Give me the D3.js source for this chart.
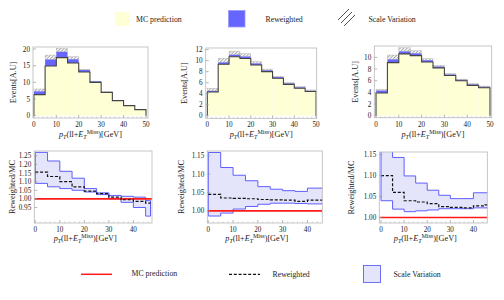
<!DOCTYPE html>
<html>
<head>
<meta charset="utf-8">
<script src="https://cdn.jsdelivr.net/npm/d3@7"></script>
<style>
body { margin: 0; background: #fff; }
text { font-family: "Liberation Serif", "DejaVu Serif", serif; fill: #222; }
</style>
</head>
<body>
<svg id="chart" width="504" height="300"></svg>
<script>
// bin edges (GeV)
var edges = [0, 5, 10, 15, 20, 25, 30, 35, 40, 45, 50];
var ratioEdges = [0, 5, 10, 15, 20, 25, 30, 35, 40, 45, 47];

// MC prediction per bin, one array per panel
var mc1 = [6.3, 14.9, 17.4, 15.8, 13.1, 10.0, 7.0, 4.5, 3.0, 1.8];
var mc2 = [4.3, 9.35, 10.7, 10.4, 9.2, 8.0, 6.8, 5.7, 5.0, 4.4];
var mc3 = [3.9, 9.1, 10.6, 10.3, 9.2, 8.2, 6.9, 6.0, 5.2, 4.8];

// Reweighted / MC
var ratio1 = [1.155, 1.13, 1.10, 1.07, 1.045, 1.03, 1.01, 0.995, 0.985, 0.975];
var ratio2 = [1.045, 1.035, 1.034, 1.033, 1.031, 1.030, 1.029, 1.026, 1.029, 1.029];
var ratio3 = [1.10, 1.06, 1.04, 1.037, 1.033, 1.026, 1.024, 1.023, 1.028, 1.03];

// scale variation band (upper / lower), relative to MC
var up1 = [1.27, 1.22, 1.16, 1.12, 1.06, 1.035, 1.02, 1.015, 1.01, 0.99];
var lo1 = [1.09, 1.07, 1.06, 1.05, 1.04, 1.025, 1.00, 0.98, 0.95, 0.90];
var up2 = [1.159, 1.118, 1.097, 1.082, 1.066, 1.059, 1.055, 1.053, 1.062, 1.062];
var lo2 = [0.986, 0.994, 1.005, 1.012, 1.018, 1.021, 1.021, 1.020, 1.019, 1.019];
var up3 = [1.16, 1.143, 1.099, 1.082, 1.065, 1.053, 1.045, 1.045, 1.059, 1.059];
var lo3 = [1.04, 1.02, 1.014, 1.016, 1.018, 1.021, 1.021, 1.021, 1.023, 1.023];

var histTicks1 = [0, 5, 10, 15, 20];
var histTicks2 = [0, 2, 4, 6, 8, 10, 12];
var histTicks3 = [0, 2, 4, 6, 8, 10];
var ratioTicks1 = [0.95, 1.00, 1.05, 1.10, 1.15, 1.20, 1.25];
var ratioTicks2 = [1.00, 1.05, 1.10, 1.15];
var ratioTicks3 = [1.00, 1.05, 1.10, 1.15];
var xTicksTop = [0, 10, 20, 30, 40, 50];
var xTicksBottom = [0, 10, 20, 30, 40];

var legendTop = ["MC prediction", "Reweighted", "Scale Variation"];
var legendBottom = ["MC prediction", "Reweighted", "Scale Variation"];

var creamFill = "#ffffd6";
var blueFill = "#6666ff";
var bandFill = "#e4e4fb";
var bandLine = "#5f5fff";
var frameCol = "#b8b8b8";

var svg = d3.select("#chart");
var defs = svg.append("defs");

var pat = defs.append("pattern")
    .attr("id", "hatch")
    .attr("patternUnits", "userSpaceOnUse")
    .attr("width", 2.4).attr("height", 2.4)
    .attr("patternTransform", "rotate(45)");
pat.append("rect").attr("width", 2.4).attr("height", 2.4).attr("fill", "#f4f4f4");
pat.append("line").attr("x1", 0).attr("y1", 0).attr("x2", 0).attr("y2", 2.4)
    .attr("stroke", "#555").attr("stroke-width", 0.8);

var clipId = 0;

function frame(g, o, x, y, xt, yt, yfmt) {
    g.append("rect")
        .attr("x", o.L).attr("y", o.T)
        .attr("width", o.R - o.L).attr("height", o.B - o.T)
        .attr("fill", "none").attr("stroke", frameCol).attr("stroke-width", 0.8);

    // minor ticks
    var xm = d3.range(Math.ceil(o.xd[0]), o.xd[1], 2).filter(function(v) { return xt.indexOf(v) < 0; });
    g.selectAll(".xmin").data(xm).enter().append("line")
        .attr("x1", x).attr("x2", x)
        .attr("y1", o.B).attr("y2", o.B - 1.5)
        .attr("stroke", frameCol).attr("stroke-width", 0.6);

    g.selectAll(".xt").data(xt).enter().append("line")
        .attr("x1", x).attr("x2", x)
        .attr("y1", o.B).attr("y2", o.B - 3)
        .attr("stroke", "#999").attr("stroke-width", 0.7);
    g.selectAll(".xl").data(xt).enter().append("text")
        .attr("x", x).attr("y", o.B + 9)
        .attr("text-anchor", "middle")
        .attr("font-size", 7.2)
        .text(function(d) { return d; });

    g.selectAll(".yt").data(yt).enter().append("line")
        .attr("x1", o.L).attr("x2", o.L + 3)
        .attr("y1", y).attr("y2", y)
        .attr("stroke", "#999").attr("stroke-width", 0.7);
    g.selectAll(".yl").data(yt).enter().append("text")
        .attr("x", o.L - 3).attr("y", function(d) { return y(d) + 2.5; })
        .attr("text-anchor", "end")
        .attr("font-size", 7.2)
        .text(yfmt);
}

function xTitle(g, cx, cy) {
    var t = g.append("text")
        .attr("x", cx).attr("y", cy)
        .attr("text-anchor", "middle")
        .attr("font-size", 8.2);
    t.append("tspan").attr("font-style", "italic").text("p");
    t.append("tspan").attr("font-size", 6).attr("dy", 1.8).attr("font-style", "italic").text("T");
    t.append("tspan").attr("dy", -1.8).text("(ll+");
    t.append("tspan").attr("font-style", "italic").text("E");
    t.append("tspan").attr("font-size", 6).attr("dy", 1.8).attr("font-style", "italic").text("T");
    t.append("tspan").attr("font-size", 6).attr("dy", -5).text("Miss");
    t.append("tspan").attr("dy", 3.2).text(")[GeV]");
}

function yTitle(g, cx, cy, label) {
    g.append("text")
        .attr("transform", "translate(" + cx + "," + cy + ") rotate(-90)")
        .attr("text-anchor", "middle")
        .attr("dy", "0.35em")
        .attr("font-size", 8.2)
        .text(label);
}

function clip(o) {
    var id = "clip" + (clipId++);
    defs.append("clipPath").attr("id", id).append("rect")
        .attr("x", o.L).attr("y", o.T)
        .attr("width", o.R - o.L).attr("height", o.B - o.T);
    return "url(#" + id + ")";
}

function histPanel(o) {
    var x = d3.scaleLinear().domain(o.xd).range([o.L, o.R]);
    var y = d3.scaleLinear().domain(o.yd).range([o.B, o.T]);
    var g = svg.append("g");

    var bins = o.mc.map(function(v, i) {
        return { x0: edges[i], x1: edges[i + 1], mc: v, rw: v * o.ratio[i], up: v * o.up[i] };
    });

    var pg = g.append("g").attr("clip-path", clip(o));

    pg.selectAll(".cream").data(bins).enter().append("rect")
        .attr("x", function(d) { return x(d.x0); })
        .attr("width", function(d) { return x(d.x1) - x(d.x0); })
        .attr("y", function(d) { return y(d.mc); })
        .attr("height", function(d) { return y(0) - y(d.mc); })
        .attr("fill", creamFill);

    pg.selectAll(".hatch").data(bins.filter(function(d) { return d.up > Math.max(d.rw, d.mc); })).enter().append("rect")
        .attr("x", function(d) { return x(d.x0); })
        .attr("width", function(d) { return x(d.x1) - x(d.x0); })
        .attr("y", function(d) { return y(d.up); })
        .attr("height", function(d) { return y(Math.max(d.rw, d.mc)) - y(d.up); })
        .attr("fill", "url(#hatch)")
        .attr("stroke", "#aaa").attr("stroke-width", 0.4);

    pg.selectAll(".blue").data(bins).enter().append("rect")
        .attr("x", function(d) { return x(d.x0); })
        .attr("width", function(d) { return x(d.x1) - x(d.x0); })
        .attr("y", function(d) { return y(Math.max(d.mc, d.rw)); })
        .attr("height", function(d) { return Math.abs(y(d.mc) - y(d.rw)); })
        .attr("fill", blueFill);

    // MC step outline
    var pts = [[edges[0], 0]];
    bins.forEach(function(d) { pts.push([d.x0, d.mc]); pts.push([d.x1, d.mc]); });
    pts.push([edges[edges.length - 1], 0]);
    pg.append("path")
        .attr("d", d3.line().x(function(p) { return x(p[0]); }).y(function(p) { return y(p[1]); })(pts))
        .attr("fill", "none").attr("stroke", "#444").attr("stroke-width", 1.1);

    frame(g, o, x, y, xTicksTop, o.yt, function(d) { return d; });
    yTitle(g, o.yx, (o.T + o.B) / 2, "Events[A.U]");
    xTitle(g, (o.L + o.R) / 2, o.B + 19);
}

function ratioPanel(o) {
    var x = d3.scaleLinear().domain(o.xd).range([o.L, o.R]);
    var y = d3.scaleLinear().domain(o.yd).range([o.B, o.T]);
    var g = svg.append("g");
    var pg = g.append("g").attr("clip-path", clip(o));

    var n = o.ratio.length;
    var upPts = [], loPts = [], rwPts = [];
    for (var i = 0; i < n; i++) {
        upPts.push([ratioEdges[i], o.up[i]], [ratioEdges[i + 1], o.up[i]]);
        loPts.push([ratioEdges[i], o.lo[i]], [ratioEdges[i + 1], o.lo[i]]);
        rwPts.push([ratioEdges[i], o.ratio[i]], [ratioEdges[i + 1], o.ratio[i]]);
    }
    var line = d3.line().x(function(p) { return x(p[0]); }).y(function(p) { return y(p[1]); });
    var band = upPts.concat(loPts.slice().reverse());

    pg.append("path")
        .attr("d", line(band) + "Z")
        .attr("fill", bandFill)
        .attr("stroke", bandLine).attr("stroke-width", 1);

    pg.append("line")
        .attr("x1", o.L).attr("x2", o.R)
        .attr("y1", y(1)).attr("y2", y(1))
        .attr("stroke", "#ff1a1a").attr("stroke-width", 1.6);

    pg.append("path")
        .attr("d", line(rwPts))
        .attr("fill", "none")
        .attr("stroke", "#111").attr("stroke-width", 1.2)
        .attr("stroke-dasharray", "3,1.8");

    frame(g, o, x, y, xTicksBottom, o.yt, d3.format(".2f"));
    yTitle(g, o.yx, (o.T + o.B) / 2, "Reweighted/MC");
    xTitle(g, (o.L + o.R) / 2 - 8, o.B + 18);
}

histPanel({ L: 33, R: 148, T: 47, B: 118, xd: [-0.4, 50.9], yd: [-0.7, 20.6],
            mc: mc1, ratio: ratio1, up: up1, yt: histTicks1, yx: 12.7 });
histPanel({ L: 205.7, R: 316.7, T: 48, B: 118.3, xd: [-0.74, 50.3], yd: [-0.47, 12.3],
            mc: mc2, ratio: ratio2, up: up2, yt: histTicks2, yx: 184.3 });
histPanel({ L: 374.3, R: 491.7, T: 46, B: 117.7, xd: [-0.75, 50.75], yd: [-0.34, 11.95],
            mc: mc3, ratio: ratio3, up: up3, yt: histTicks3, yx: 355 });

ratioPanel({ L: 34.3, R: 152, T: 151, B: 223, xd: [-0.4, 47.6], yd: [0.86, 1.278],
             ratio: ratio1, up: up1, lo: lo1, yt: ratioTicks1, yx: 12.3 });
ratioPanel({ L: 207.3, R: 322.3, T: 151, B: 223, xd: [-0.4, 46], yd: [0.967, 1.163],
             ratio: ratio2, up: up2, lo: lo2, yt: ratioTicks2, yx: 180.7 });
ratioPanel({ L: 379.3, R: 487.3, T: 152, B: 223, xd: [-0.74, 46], yd: [0.987, 1.156],
             ratio: ratio3, up: up3, lo: lo3, yt: ratioTicks3, yx: 351 });

// top legend
var lt = svg.append("g");
lt.append("rect").attr("x", 115).attr("y", 12).attr("width", 14).attr("height", 14).attr("fill", creamFill);
lt.append("rect").attr("x", 228.5).attr("y", 10.5).attr("width", 16.5).attr("height", 16.5)
    .attr("fill", blueFill).attr("stroke", "#9a9aff").attr("stroke-width", 0.8);
[0, 1, 2].forEach(function(k) {
    lt.append("line")
        .attr("x1", 338 + k * 3).attr("y1", 20 + k * 3)
        .attr("x2", 349 + k * 3).attr("y2", 9 + k * 3)
        .attr("stroke", "#222").attr("stroke-width", 0.8);
});
lt.selectAll(".lt").data(legendTop).enter().append("text")
    .attr("x", function(d, i) { return [136, 265.5, 368.5][i]; })
    .attr("y", function(d, i) { return [22, 21.5, 21.5][i]; })
    .attr("font-size", 7.8)
    .text(function(d) { return d; });

// bottom legend
var lb = svg.append("g");
lb.append("line").attr("x1", 81).attr("x2", 112).attr("y1", 274.3).attr("y2", 274.3)
    .attr("stroke", "#ff1a1a").attr("stroke-width", 1.5);
lb.append("line").attr("x1", 229).attr("x2", 260).attr("y1", 274.3).attr("y2", 274.3)
    .attr("stroke", "#111").attr("stroke-width", 1.2).attr("stroke-dasharray", "3,1.8");
lb.append("rect").attr("x", 363.5).attr("y", 265.5).attr("width", 17).attr("height", 17)
    .attr("fill", bandFill).attr("stroke", bandLine).attr("stroke-width", 0.9);
lb.selectAll(".lb").data(legendBottom).enter().append("text")
    .attr("x", function(d, i) { return [131.5, 272.5, 393.5][i]; })
    .attr("y", function(d, i) { return [275.5, 277, 277][i]; })
    .attr("font-size", 7.8)
    .text(function(d) { return d; });
</script>
</body>
</html>
